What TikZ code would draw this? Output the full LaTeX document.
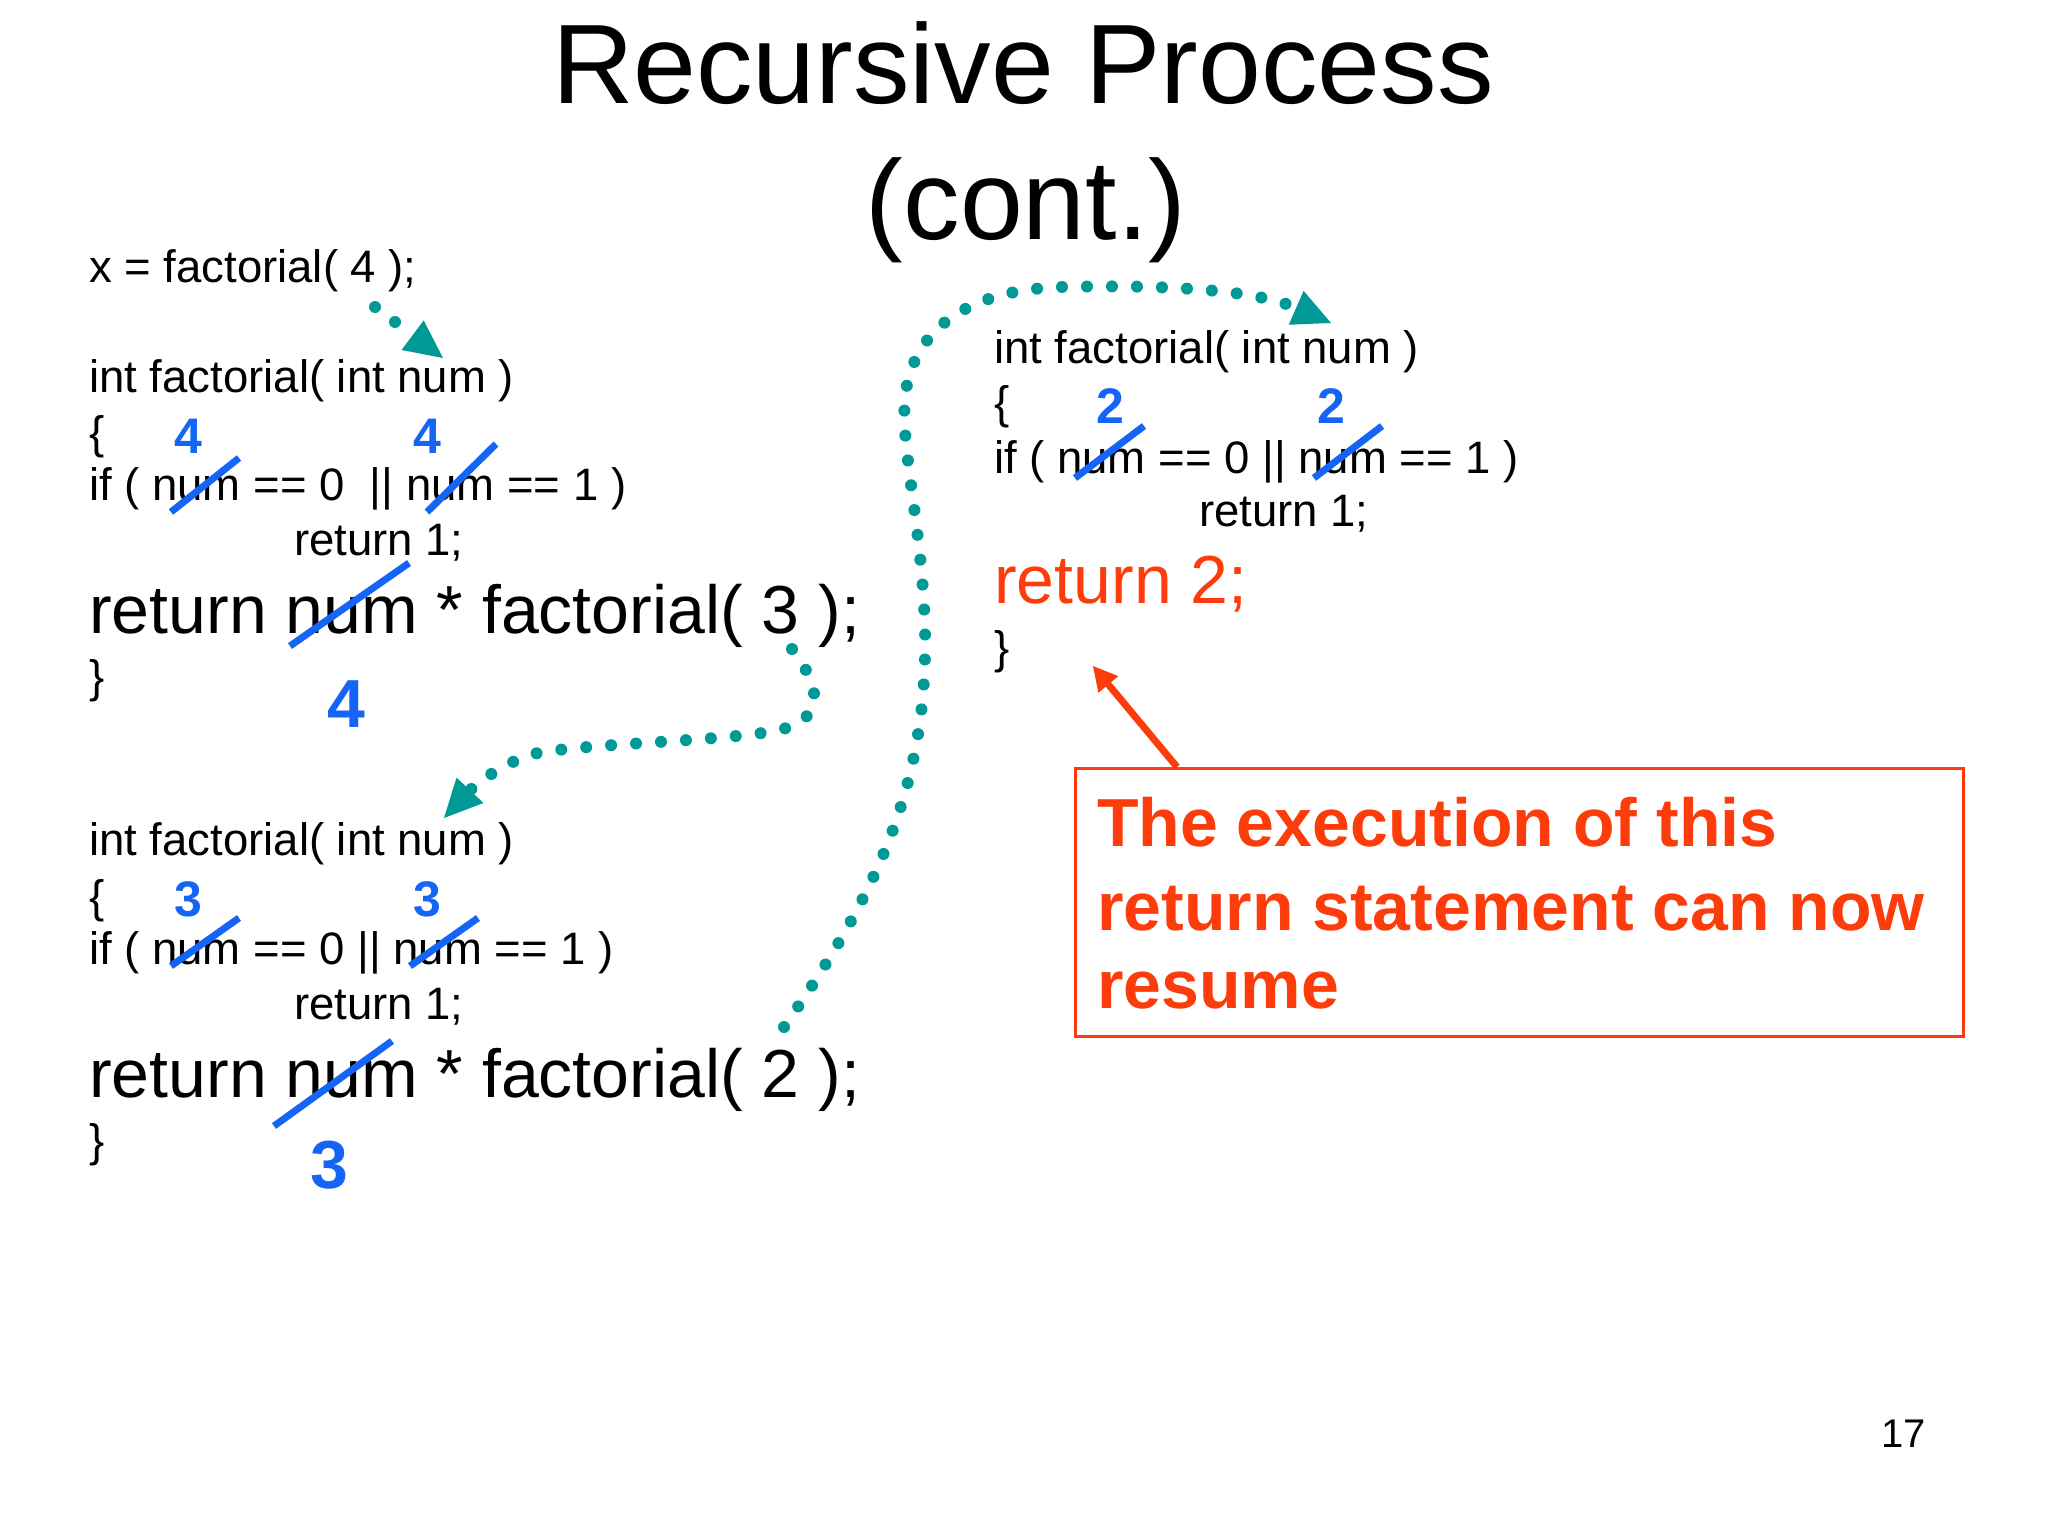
\documentclass[tikz,border=0pt]{standalone}
\usepackage{fontspec}
\setmainfont{Liberation Sans}
\usetikzlibrary{arrows.meta}
\definecolor{tealc}{RGB}{0,153,150}
\definecolor{bluec}{RGB}{20,100,245}
\definecolor{redc}{RGB}{252,60,10}
\tikzset{
  code/.style={anchor=base west, inner sep=0pt, font=\fontsize{45.5}{54}\selectfont},
  bigcode/.style={anchor=base west, inner sep=0pt, font=\fontsize{68}{80}\selectfont},
  val/.style={anchor=base, inner sep=0pt, text=bluec, font=\fontsize{50}{58}\selectfont\bfseries},
  bigval/.style={anchor=base, inner sep=0pt, text=bluec, font=\fontsize{68}{80}\selectfont\bfseries},
  strike/.style={draw=bluec, line width=7pt},
  flow/.style={draw=tealc, line width=12pt, line cap=round, dash pattern=on 0pt off 25pt,
    -{Triangle[length=38pt,width=37pt,line width=0pt,fill=tealc]}},
  note/.style={anchor=base west, inner sep=0pt, text=redc, font=\fontsize{68}{80}\selectfont\bfseries},
  titletext/.style={anchor=base, inner sep=0pt, font=\fontsize{113}{136}\selectfont},
}
\begin{document}
\begin{tikzpicture}[x=1pt,y=-1pt]
\useasboundingbox[fill=white] (0,0) rectangle (2048,1536);
% title
\node[titletext] (t1) at (1023,104) {Recursive Process};
\node[titletext] (t2) at (1026,239) {(cont.)};
% call
\node[code] (call) at (89,282) {x = factorial( 4 );};
% block 1
\node[code] (a1) at (89,392) {int factorial( int num )};
\node[code] (a2) at (89,448) {\{};
\node[code] (a3) at (89,500) {if ( num == 0\ \ || num == 1 )};
\node[code] (a4) at (294,555) {return 1;};
\node[bigcode] (a5) at (89,633) {return num * factorial( 3 );};
\node[code] (a6) at (89,692) {\}};
\node[val] (a7) at (188,453) {4};
\node[val] (a8) at (427,453) {4};
\node[bigval] (a9) at (346,727) {4};
\draw[strike] (171,512) -- (239,458);
\draw[strike] (427,512) -- (496,444);
\draw[strike] (290,646) -- (409,563);
% block 2
\node[code] (b1) at (89,855) {int factorial( int num )};
\node[code] (b2) at (89,912) {\{};
\node[code] (b3) at (89,964) {if ( num == 0 || num == 1 )};
\node[code] (b4) at (294,1019) {return 1;};
\node[bigcode] (b5) at (89,1097) {return num * factorial( 2 );};
\node[code] (b6) at (89,1156) {\}};
\node[val] (b7) at (188,916) {3};
\node[val] (b8) at (427,916) {3};
\node[bigval] (b9) at (329,1188) {3};
\draw[strike] (171,966) -- (239,918);
\draw[strike] (410,966) -- (478,918);
\draw[strike] (274,1126) -- (392,1041);
% block 3
\node[code] (c1) at (994,363) {int factorial( int num )};
\node[code] (c2) at (994,418) {\{};
\node[code] (c3) at (994,473) {if ( num == 0 || num == 1 )};
\node[code] (c4) at (1199,526) {return 1;};
\node[bigcode, text=redc] (c5) at (994,603) {return 2;};
\node[code] (c6) at (994,663) {\}};
\node[val] (c7) at (1110,423) {2};
\node[val] (c8) at (1331,423) {2};
\draw[strike] (1075,478) -- (1144,426);
\draw[strike] (1314,478) -- (1382,426);
% note box
\node[draw=redc, line width=3pt, minimum width=888pt, minimum height=268pt, inner sep=0pt] (box) at (1519,902) {};
\node[note] (n1) at (1097,846) {The execution of this};
\node[note] (n2) at (1097,930) {return statement can now};
\node[note] (n3) at (1097,1008) {resume};
\coordinate (rs) at (1177,767);
\coordinate (rt) at (1093,666);
\draw[draw=redc, line width=7pt, -{Triangle[length=24pt,width=26pt,line width=0pt,fill=redc]}] (rs) -- (rt);
% flow arrows
\coordinate (f1s) at (375,307);
\coordinate (f1e) at (443,358);
\draw[flow] (f1s) -- (f1e);
\coordinate (f2s) at (792,649);
\coordinate (f2e) at (444,818);
\draw[flow] (f2s) .. controls (822,688) and (830,725) .. (762,733)
  .. controls (700,742) and (560,745) .. (530,755)
  .. controls (500,765) and (475,785) .. (f2e);
\coordinate (f3s) at (784,1027);
\coordinate (f3e) at (1331,323);
\draw[flow] (f3s) .. controls (880,890) and (928,780) .. (925,630)
  .. controls (922,520) and (898,440) .. (906,390)
  .. controls (918,320) and (980,290) .. (1060,287)
  .. controls (1180,284) and (1260,292) .. (f3e);
% page number
\node[anchor=base west, inner sep=0pt, font=\fontsize{40}{48}\selectfont] (pg) at (1881,1447) {17};
\end{tikzpicture}
\end{document}
